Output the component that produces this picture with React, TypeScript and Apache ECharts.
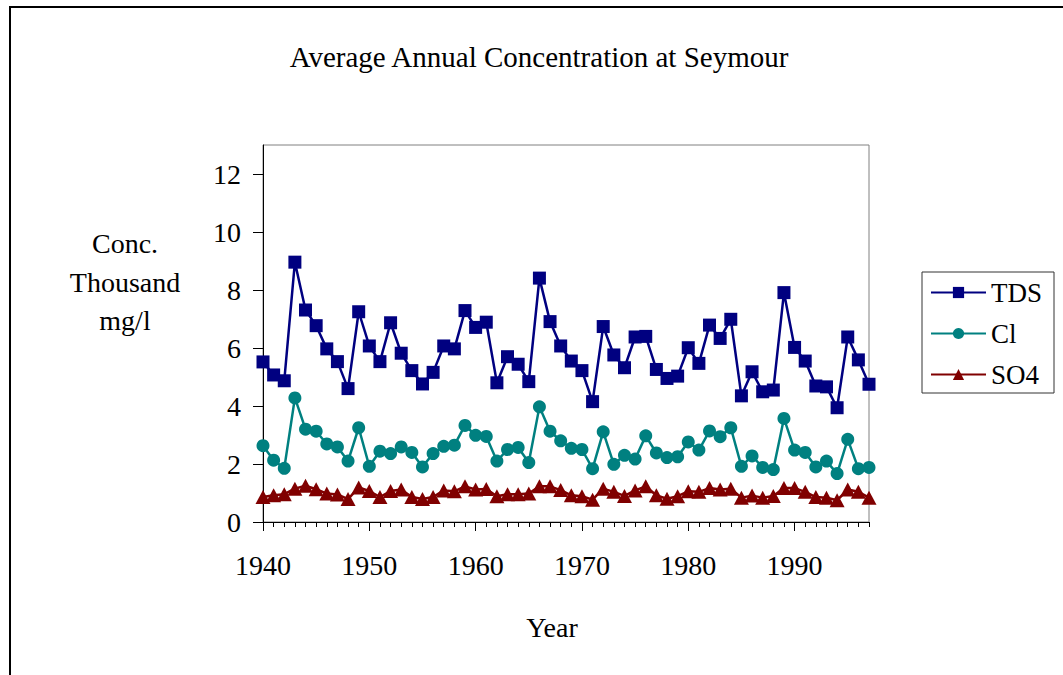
import React, { useEffect, useRef } from "react";
import * as echarts from "echarts";

const years: number[] = [];
for (let y = 1940; y <= 1997; y++) years.push(y);

const tds = [
  5.52, 5.07, 4.87, 8.96, 7.31, 6.77, 5.97, 5.53, 4.6, 7.25,
  6.07, 5.53, 6.87, 5.82, 5.22, 4.76, 5.16, 6.07, 5.97, 7.29,
  6.71, 6.89, 4.8, 5.7, 5.44, 4.84, 8.41, 6.91, 6.07, 5.55,
  5.22, 4.15, 6.74, 5.76, 5.32, 6.38, 6.4, 5.26, 4.95, 5.03,
  6.01, 5.47, 6.79, 6.33, 6.99, 4.35, 5.18, 4.49, 4.55, 7.91,
  6.02, 5.55, 4.69, 4.66, 3.94, 6.38, 5.59, 4.75,
];

const cl = [
  2.63, 2.13, 1.85, 4.28, 3.2, 3.13, 2.69, 2.59, 2.1, 3.25,
  1.92, 2.44, 2.36, 2.59, 2.4, 1.9, 2.36, 2.61, 2.65, 3.33,
  2.99, 2.95, 2.1, 2.5, 2.57, 2.05, 3.97, 3.13, 2.8, 2.54,
  2.5, 1.84, 3.11, 1.99, 2.3, 2.17, 2.97, 2.38, 2.22, 2.25,
  2.76, 2.48, 3.14, 2.94, 3.25, 1.92, 2.28, 1.88, 1.81, 3.57,
  2.48, 2.4, 1.9, 2.1, 1.67, 2.85, 1.84, 1.88,
];

const so4 = [
  0.86, 0.92, 0.96, 1.15, 1.25, 1.13, 0.98, 0.95, 0.79, 1.19,
  1.07, 0.86, 1.07, 1.12, 0.86, 0.79, 0.86, 1.09, 1.06, 1.23,
  1.12, 1.14, 0.89, 0.96, 0.96, 0.98, 1.23, 1.23, 1.1, 0.92,
  0.89, 0.77, 1.15, 1.04, 0.9, 1.09, 1.23, 0.92, 0.8, 0.89,
  1.06, 1.04, 1.17, 1.12, 1.15, 0.84, 0.91, 0.84, 0.9, 1.17,
  1.17, 1.04, 0.86, 0.84, 0.75, 1.12, 1.04, 0.84,
];

const seriesNames = ["TDS", "Cl", "SO4"];
const decadeLabels = [1940, 1950, 1960, 1970, 1980, 1990];
const yTicks = [0, 2, 4, 6, 8, 10, 12];

const FONT = "Liberation Serif";

export default function App() {
  const ref = useRef<HTMLDivElement>(null);

  useEffect(() => {
    if (!ref.current) return;
    const chart = echarts.init(ref.current, undefined, { renderer: "svg" });
    const pairs = (arr: number[]) => years.map((y, i) => [y, arr[i]]);
    const gridBox = { left: 263, top: 145, width: 606, height: 377 };

    chart.setOption({
      animation: false,
      backgroundColor: "#ffffff",
      textStyle: { fontFamily: FONT },
      grid: [
        { ...gridBox, show: true, borderColor: "#808080", borderWidth: 1, backgroundColor: "transparent" },
        { ...gridBox, show: false },
      ],
      xAxis: [
        {
          type: "value",
          gridIndex: 0,
          min: 1940,
          max: 1997,
          axisLine: { show: true, onZero: false, lineStyle: { color: "#000", width: 1 } },
          axisTick: { show: true, customValues: years, length: 5, lineStyle: { color: "#000" } },
          axisLabel: {
            customValues: decadeLabels,
            formatter: (v: number) => String(v),
            fontSize: 28,
            fontFamily: FONT,
            color: "#000",
            margin: 29,
          },
          splitLine: { show: false },
        },
        {
          type: "value",
          gridIndex: 1,
          min: 1940,
          max: 1997,
          position: "bottom",
          axisLine: { show: false },
          axisTick: { show: true, customValues: decadeLabels, length: 9, lineStyle: { color: "#000" } },
          axisLabel: { show: false },
          splitLine: { show: false },
        },
      ],
      yAxis: [
        {
          type: "value",
          gridIndex: 0,
          min: 0,
          max: 13,
          axisLine: { show: true, lineStyle: { color: "#000", width: 1 } },
          axisTick: { show: true, customValues: yTicks, length: 10, lineStyle: { color: "#000" } },
          axisLabel: {
            customValues: yTicks,
            fontSize: 28,
            fontFamily: FONT,
            color: "#000",
            margin: 22,
          },
          splitLine: { show: false },
        },
        {
          type: "value",
          gridIndex: 1,
          min: 0,
          max: 13,
          show: false,
        },
      ],
      legend: {
        orient: "vertical",
        left: 922,
        top: 272,
        padding: [7, 12, 5, 8],
        itemWidth: 55,
        itemHeight: 14,
        itemGap: 14,
        borderColor: "#333",
        borderWidth: 1,
        backgroundColor: "#fff",
        formatter: (name: string) => `{s|${name}}`,
        textStyle: {
          fontSize: 27,
          fontFamily: FONT,
          color: "#000",
          rich: {
            s: { fontSize: 27, fontFamily: FONT, color: "#000" },
          },
        },
        data: seriesNames,
      },
      graphic: [
        {
          type: "rect",
          shape: { x: 10, y: 7, width: 1100, height: 800 },
          style: { fill: "none", stroke: "#000", lineWidth: 2 },
          silent: true,
          z: -10,
        },
        {
          type: "text",
          x: 539,
          y: 57,
          style: {
            text: "Average Annual Concentration at Seymour",
            font: `29px ${FONT}`,
            fill: "#000",
            textAlign: "center",
            textVerticalAlign: "middle",
          },
        },
        {
          type: "text",
          x: 125,
          y: 282,
          style: {
            text: "Conc.\nThousand\nmg/l",
            font: `28px ${FONT}`,
            lineHeight: 38.5,
            fill: "#000",
            textAlign: "center",
            textVerticalAlign: "middle",
          },
        },
        {
          type: "text",
          x: 552,
          y: 627,
          style: {
            text: "Year",
            font: `28px ${FONT}`,
            fill: "#000",
            textAlign: "center",
            textVerticalAlign: "middle",
          },
        },
      ],
      series: [
        {
          name: seriesNames[0],
          type: "line",
          xAxisIndex: 0,
          yAxisIndex: 0,
          data: pairs(tds),
          symbol: "rect",
          symbolSize: 13,
          showAllSymbol: true,
          lineStyle: { color: "#000080", width: 2.5 },
          itemStyle: { color: "#000080" },
        },
        {
          name: seriesNames[1],
          type: "line",
          xAxisIndex: 0,
          yAxisIndex: 0,
          data: pairs(cl),
          symbol: "circle",
          symbolSize: 13,
          showAllSymbol: true,
          lineStyle: { color: "#008080", width: 2.5 },
          itemStyle: { color: "#008080" },
        },
        {
          name: seriesNames[2],
          type: "line",
          xAxisIndex: 0,
          yAxisIndex: 0,
          data: pairs(so4),
          symbol: "triangle",
          symbolSize: [15, 14],
          showAllSymbol: true,
          lineStyle: { color: "#800000", width: 2.5 },
          itemStyle: { color: "#800000" },
        },
      ],
    });

    return () => chart.dispose();
  }, []);

  return (
    <div
      ref={ref}
      style={{ position: "fixed", left: 0, top: 0, width: 1063, height: 675, background: "#fff" }}
    />
  );
}
